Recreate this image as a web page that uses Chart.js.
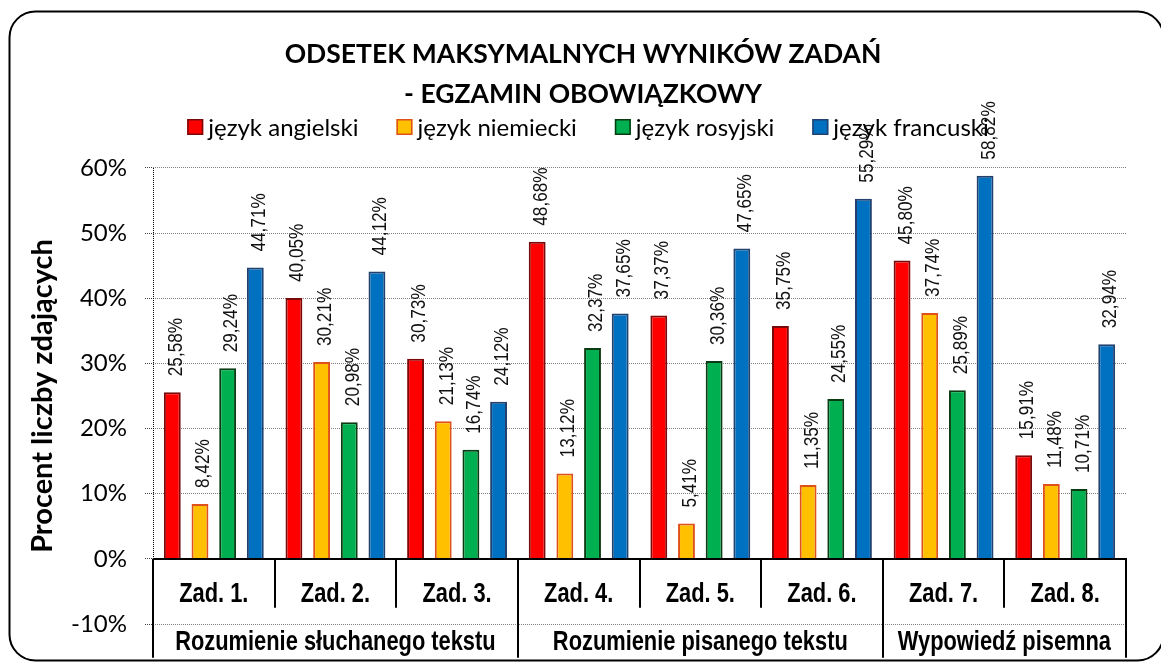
<!DOCTYPE html>
<html><head><meta charset="utf-8">
<script src="https://cdn.jsdelivr.net/npm/chart.js@4/dist/chart.umd.min.js"></script>
<style>html,body{margin:0;padding:0;background:#fff;overflow:hidden}</style>
</head><body>
<canvas id="c" width="1161" height="662"></canvas>
<script>
// ---- data ----
const categories = ['Zad. 1.', 'Zad. 2.', 'Zad. 3.', 'Zad. 4.', 'Zad. 5.', 'Zad. 6.', 'Zad. 7.', 'Zad. 8.'];
const groupNames = ['Rozumienie słuchanego tekstu', 'Rozumienie pisanego tekstu', 'Wypowiedź pisemna'];
const groupSizes = [3, 3, 2];
const seriesNames = ['język angielski', 'język niemiecki', 'język rosyjski', 'język francuski'];
const angielski = [25.58, 40.05, 30.73, 48.68, 37.37, 35.75, 45.80, 15.91];
const niemiecki = [8.42, 30.21, 21.13, 13.12, 5.41, 11.35, 37.74, 11.48];
const rosyjski  = [29.24, 20.98, 16.74, 32.37, 30.36, 24.55, 25.89, 10.71];
const francuski = [44.71, 44.12, 24.12, 37.65, 47.65, 55.29, 58.82, 32.94];
const yMin = -10, yMax = 60, yStep = 10;
const titleLines = ['ODSETEK MAKSYMALNYCH WYNIKÓW ZADAŃ', '- EGZAMIN OBOWIĄZKOWY'];
const yTitle = 'Procent liczby zdających';

const fills   = ['#FF0000', '#FFC000', '#00B050', '#0070C0'];
const borders = ['#7A0A0A', '#E0501A', '#0B3B12', '#23416E'];

function fmt(v) { return v.toFixed(2).replace('.', ',') + '%'; }

const framePlugin = {
  id: 'frame',
  beforeDraw(chart) {
    const ctx = chart.ctx;
    ctx.save();
    ctx.fillStyle = '#fff';
    ctx.fillRect(0, 0, chart.width, chart.height);
    ctx.beginPath();
    ctx.roundRect(9.5, 11.5, 1154, 649, 26);
    ctx.lineWidth = 2;
    ctx.strokeStyle = '#000';
    ctx.stroke();
    ctx.restore();
  }
};

const legendPlugin = {
  id: 'customLegend',
  afterDraw(chart) {
    const ctx = chart.ctx;
    ctx.save();
    ctx.font = '24px Lato';
    const box = 16, gap = 5, spacing = 38;
    const items = chart.data.datasets.map(d => ({label: d.label, fill: d.backgroundColor, stroke: d.borderColor, w: ctx.measureText(d.label).width}));
    const total = items.reduce((s, it) => s + box + gap + it.w, 0) + spacing * (items.length - 1);
    let x = 588 - total / 2;
    const cy = 127;
    items.forEach(it => {
      ctx.fillStyle = it.fill;
      ctx.fillRect(x, cy - box / 2, box, box);
      ctx.strokeStyle = it.stroke;
      ctx.lineWidth = 1.5;
      ctx.strokeRect(x + 0.75, cy - box / 2 + 0.75, box - 1.5, box - 1.5);
      ctx.fillStyle = '#000';
      ctx.textAlign = 'left';
      ctx.textBaseline = 'middle';
      ctx.fillText(it.label, x + box + gap, cy + 1);
      x += box + gap + it.w + spacing;
    });
    ctx.restore();
  }
};

const valueLabels = {
  id: 'valueLabels',
  afterDatasetsDraw(chart) {
    const ctx = chart.ctx;
    ctx.save();
    ctx.font = '20px "Liberation Sans"';
    ctx.fillStyle = '#111';
    ctx.textAlign = 'left';
    ctx.textBaseline = 'alphabetic';
    chart.data.datasets.forEach((ds, di) => {
      const meta = chart.getDatasetMeta(di);
      meta.data.forEach((el, i) => {
        ctx.save();
        ctx.translate(el.x, el.y - 16);
        ctx.rotate(-Math.PI / 2);
        ctx.scale(0.86, 1);
        ctx.fillText(fmt(ds.data[i]), 0, 9.5);
        ctx.restore();
      });
    });
    ctx.restore();
  }
};

const categoryAxis = {
  id: 'categoryAxis',
  afterDraw(chart) {
    const ctx = chart.ctx, xs = chart.scales.x, ys = chart.scales.y;
    const y0 = ys.getPixelForValue(0);
    const yTop = ys.getPixelForValue(yMax);
    const n = categories.length;
    const step = xs.getPixelForValue(1) - xs.getPixelForValue(0);
    const bounds = [];
    for (let i = 0; i <= n; i++) bounds.push(xs.getPixelForValue(0) - step / 2 + i * step);
    const groupEdges = [0];
    groupSizes.forEach(s => groupEdges.push(groupEdges[groupEdges.length - 1] + s));
    ctx.save();
    ctx.strokeStyle = '#000';
    ctx.lineWidth = 1;
    ctx.setLineDash([1, 1]);
    ctx.beginPath();
    ctx.moveTo(Math.round(bounds[0]) + 0.5, yTop);
    ctx.lineTo(Math.round(bounds[0]) + 0.5, y0);
    ctx.stroke();
    ctx.setLineDash([]);
    ctx.lineWidth = 2;
    ctx.beginPath();
    ctx.moveTo(bounds[0], Math.round(y0));
    ctx.lineTo(bounds[n] + 1, Math.round(y0));
    ctx.stroke();
    for (let i = 0; i <= n; i++) {
      const isGroup = groupEdges.includes(i);
      const len = isGroup ? 99 : 49;
      const bx = Math.round(bounds[i]);
      ctx.beginPath();
      ctx.moveTo(bx, y0);
      ctx.lineTo(bx, y0 + len);
      ctx.stroke();
    }
    ctx.fillStyle = '#000';
    ctx.textAlign = 'center';
    ctx.textBaseline = 'alphabetic';
    ctx.font = 'bold 28px "Liberation Sans"';
    categories.forEach((c, i) => {
      ctx.save();
      ctx.translate(xs.getPixelForValue(i), y0 + 43);
      ctx.scale(0.78, 1);
      ctx.fillText(c, 0, 0);
      ctx.restore();
    });
    groupNames.forEach((g, k) => {
      const cx = (bounds[groupEdges[k]] + bounds[groupEdges[k + 1]]) / 2;
      ctx.save();
      ctx.translate(cx, y0 + 91);
      ctx.scale(0.78, 1);
      ctx.fillText(g, 0, 0);
      ctx.restore();
    });
    ctx.restore();
  }
};

const seriesData = [angielski, niemiecki, rosyjski, francuski];

new Chart(document.getElementById('c'), {
  type: 'bar',
  data: {
    labels: categories,
    datasets: seriesNames.map((name, k) => ({
      label: name,
      data: seriesData[k],
      backgroundColor: fills[k],
      borderColor: borders[k],
      borderWidth: 2,
      categoryPercentage: 0.91,
      barPercentage: 0.61
    }))
  },
  options: {
    responsive: false,
    animation: false,
    devicePixelRatio: 1,
    layout: {padding: {top: 12, right: 35, bottom: 38, left: 40}},
    plugins: {
      legend: {display: false},
      tooltip: {enabled: false},
      title: {
        display: true,
        text: titleLines,
        color: '#000',
        font: {family: 'Lato', size: 26.5, weight: 'bold', lineHeight: 1.509},
        padding: {top: 22, bottom: 54}
      }
    },
    scales: {
      x: {display: false},
      y: {
        min: yMin, max: yMax,
        afterFit(scale) { scale.width = 113; },
        ticks: {
          stepSize: yStep,
          color: '#000',
          font: {family: 'Lato', size: 24},
          padding: 18,
          callback: v => v + '%'
        },
        grid: {
          color: '#808080',
          lineWidth: 1,
          tickLength: 8,
          tickColor: '#444',
          tickBorderDash: [1, 1]
        },
        border: {display: false, dash: [1, 1]},
        title: {
          display: true,
          text: yTitle,
          color: '#000',
          font: {family: 'Lato', size: 29, weight: 'bold'},
          padding: {top: -15, bottom: 0}
        }
      }
    }
  },
  plugins: [framePlugin, legendPlugin, valueLabels, categoryAxis]
});
</script>
</body></html>
